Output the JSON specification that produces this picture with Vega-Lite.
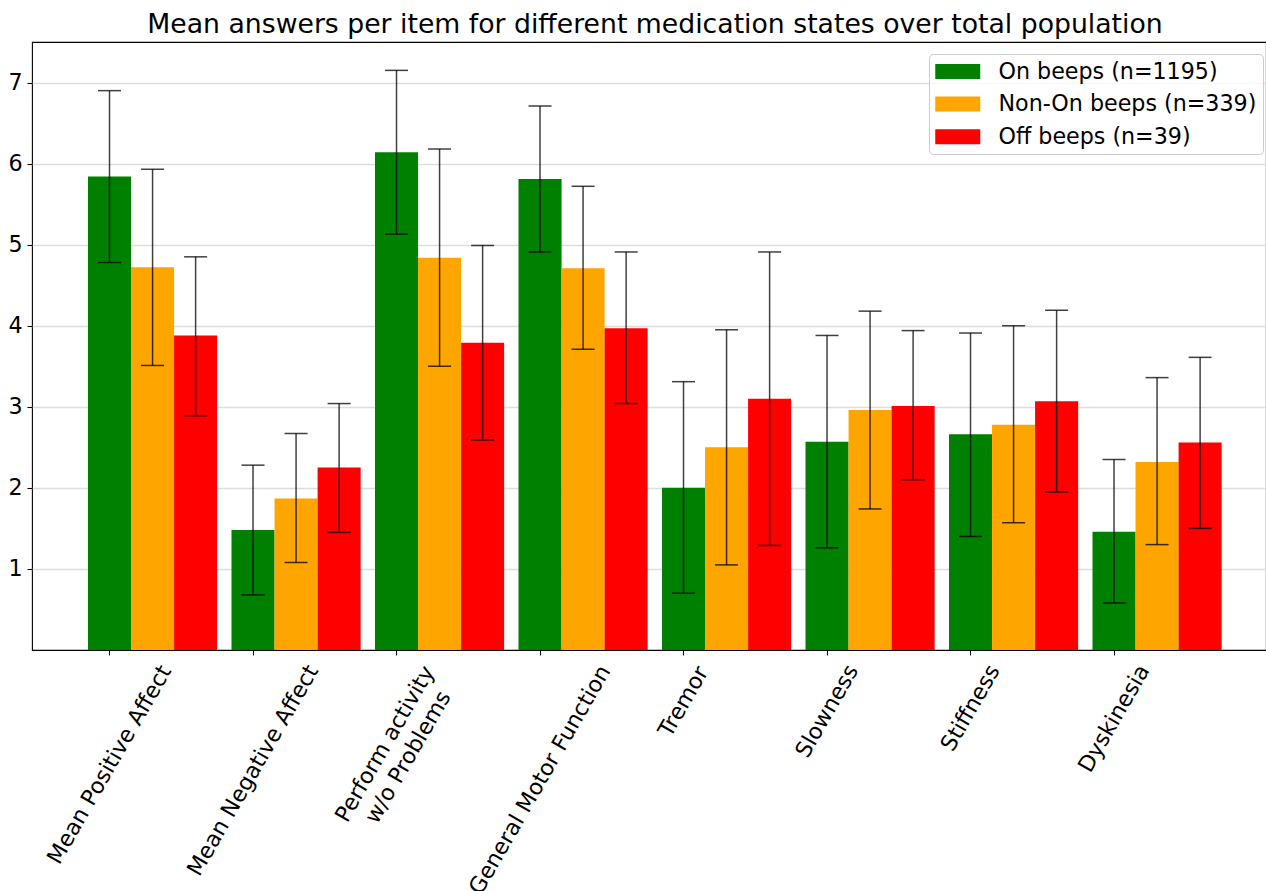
{
  "$schema": "https://vega.github.io/schema/vega-lite/v6.json",
  "autosize": {"type": "none"},
  "padding": {"left": 32, "top": 42, "right": 0, "bottom": 241},
  "width": 1234,
  "height": 608,
  "background": "white",
  "title": {
    "text": "Mean answers per item for different medication states over total population",
    "font": "DejaVu Sans",
    "fontSize": 26.7,
    "fontWeight": "normal",
    "color": "black",
    "anchor": "middle",
    "frame": "group",
    "baseline": "top",
    "offset": 3,
    "dx": 6
  },
  "config": {
    "view": {"stroke": "black", "strokeWidth": 1.1},
    "font": "DejaVu Sans"
  },
  "data": {
    "values": [
      {"item": "Mean Positive Affect", "state": "On beeps (n=1195)", "mean": 5.84, "lo": 4.78, "hi": 6.90},
      {"item": "Mean Positive Affect", "state": "Non-On beeps (n=339)", "mean": 4.72, "lo": 3.51, "hi": 5.93},
      {"item": "Mean Positive Affect", "state": "Off beeps (n=39)", "mean": 3.88, "lo": 2.89, "hi": 4.85},
      {"item": "Mean Negative Affect", "state": "On beeps (n=1195)", "mean": 1.48, "lo": 0.68, "hi": 2.28},
      {"item": "Mean Negative Affect", "state": "Non-On beeps (n=339)", "mean": 1.87, "lo": 1.08, "hi": 2.67},
      {"item": "Mean Negative Affect", "state": "Off beeps (n=39)", "mean": 2.25, "lo": 1.45, "hi": 3.04},
      {"item": "Perform activity\nw/o Problems", "state": "On beeps (n=1195)", "mean": 6.14, "lo": 5.13, "hi": 7.15},
      {"item": "Perform activity\nw/o Problems", "state": "Non-On beeps (n=339)", "mean": 4.84, "lo": 3.50, "hi": 6.18},
      {"item": "Perform activity\nw/o Problems", "state": "Off beeps (n=39)", "mean": 3.79, "lo": 2.59, "hi": 4.99},
      {"item": "General Motor Function", "state": "On beeps (n=1195)", "mean": 5.81, "lo": 4.91, "hi": 6.71},
      {"item": "General Motor Function", "state": "Non-On beeps (n=339)", "mean": 4.71, "lo": 3.71, "hi": 5.72},
      {"item": "General Motor Function", "state": "Off beeps (n=39)", "mean": 3.97, "lo": 3.04, "hi": 4.91},
      {"item": "Tremor", "state": "On beeps (n=1195)", "mean": 2.00, "lo": 0.70, "hi": 3.31},
      {"item": "Tremor", "state": "Non-On beeps (n=339)", "mean": 2.50, "lo": 1.05, "hi": 3.95},
      {"item": "Tremor", "state": "Off beeps (n=39)", "mean": 3.10, "lo": 1.29, "hi": 4.91},
      {"item": "Slowness", "state": "On beeps (n=1195)", "mean": 2.57, "lo": 1.26, "hi": 3.88},
      {"item": "Slowness", "state": "Non-On beeps (n=339)", "mean": 2.96, "lo": 1.74, "hi": 4.18},
      {"item": "Slowness", "state": "Off beeps (n=39)", "mean": 3.01, "lo": 2.10, "hi": 3.94},
      {"item": "Stiffness", "state": "On beeps (n=1195)", "mean": 2.66, "lo": 1.40, "hi": 3.91},
      {"item": "Stiffness", "state": "Non-On beeps (n=339)", "mean": 2.78, "lo": 1.57, "hi": 4.00},
      {"item": "Stiffness", "state": "Off beeps (n=39)", "mean": 3.07, "lo": 1.95, "hi": 4.19},
      {"item": "Dyskinesia", "state": "On beeps (n=1195)", "mean": 1.46, "lo": 0.58, "hi": 2.35},
      {"item": "Dyskinesia", "state": "Non-On beeps (n=339)", "mean": 2.32, "lo": 1.30, "hi": 3.36},
      {"item": "Dyskinesia", "state": "Off beeps (n=39)", "mean": 2.56, "lo": 1.50, "hi": 3.61}
    ]
  },
  "encoding": {
    "x": {
      "field": "item",
      "type": "nominal",
      "sort": ["Mean Positive Affect", "Mean Negative Affect", "Perform activity\nw/o Problems", "General Motor Function", "Tremor", "Slowness", "Stiffness", "Dyskinesia"],
      "scale": {"paddingInner": 0.1, "paddingOuter": 0.34965, "align": 0.558},
      "axis": {
        "title": null,
        "bandPosition": 0.1667,
        "domain": false,
        "grid": false,
        "ticks": true,
        "tickSize": 5,
        "tickColor": "black",
        "tickWidth": 1.1,
        "labelAngle": -60,
        "labelAlign": "center",
        "labelBaseline": "middle",
        "labelFont": "DejaVu Sans",
        "labelFontSize": 22.2,
        "labelColor": "black",
        "labelLimit": 1000,
        "labelOverlap": false,
        "labelLineHeight": 26.6,
        "labelExpr": "split(datum.label, '\\n')",
        "labelOffset": {
          "condition": [
            {"test": "indexof(datum.value, 'Perform') >= 0", "value": -54.5}
          ],
          "value": -43
        },
        "labelPadding": {
          "condition": [
            {"test": "datum.value === 'Mean Positive Affect'", "value": 109.2},
            {"test": "datum.value === 'Mean Negative Affect'", "value": 114.9},
            {"test": "indexof(datum.value, 'Perform') >= 0", "value": 88.5},
            {"test": "datum.value === 'General Motor Function'", "value": 124.4},
            {"test": "datum.value === 'Tremor'", "value": 46.1},
            {"test": "datum.value === 'Slowness'", "value": 55.7},
            {"test": "datum.value === 'Stiffness'", "value": 52.5},
            {"test": "datum.value === 'Dyskinesia'", "value": 63.1}
          ],
          "value": 5
        }
      }
    },
    "xOffset": {
      "field": "state",
      "type": "nominal",
      "sort": ["On beeps (n=1195)", "Non-On beeps (n=339)", "Off beeps (n=39)"],
      "scale": {"paddingInner": 0, "paddingOuter": 0}
    }
  },
  "layer": [
    {
      "mark": {"type": "bar"},
      "encoding": {
        "y": {
          "field": "mean",
          "type": "quantitative",
          "scale": {"domain": [0, 7.5], "nice": false, "zero": true},
          "axis": {
            "title": null,
            "values": [1, 2, 3, 4, 5, 6, 7],
            "format": "d",
            "grid": true,
            "gridColor": "#dddddd",
            "gridWidth": 1.4,
            "domain": false,
            "tickSize": 5,
            "tickColor": "black",
            "tickWidth": 1.1,
            "labelPadding": 5,
            "labelFont": "DejaVu Sans",
            "labelFontSize": 22.2,
            "labelColor": "black"
          }
        },
        "color": {
          "field": "state",
          "type": "nominal",
          "scale": {
            "domain": ["On beeps (n=1195)", "Non-On beeps (n=339)", "Off beeps (n=39)"],
            "range": ["#008000", "#ffa500", "#ff0000"]
          },
          "legend": {
            "orient": "none",
            "legendX": 897,
            "legendY": 12,
            "title": null,
            "symbolType": "M-1,-0.667H3V0.667H-1Z",
            "symbolSize": 506,
            "symbolStrokeWidth": 0,
            "symbolOpacity": 1,
            "labelFont": "DejaVu Sans",
            "labelFontSize": 22.2,
            "labelColor": "black",
            "labelOffset": 40.5,
            "labelLimit": 500,
            "padding": 6,
            "rowPadding": 9.6,
            "fillColor": "rgba(255,255,255,0.8)",
            "strokeColor": "#cccccc",
            "cornerRadius": 4
          }
        }
      }
    },
    {
      "mark": {"type": "rule", "color": "black", "opacity": 0.75, "strokeWidth": 1.5},
      "encoding": {
        "y": {"field": "lo", "type": "quantitative"},
        "y2": {"field": "hi"}
      }
    },
    {
      "mark": {"type": "tick", "color": "black", "opacity": 0.75, "size": 23, "thickness": 1.5},
      "encoding": {
        "y": {"field": "lo", "type": "quantitative"}
      }
    },
    {
      "mark": {"type": "tick", "color": "black", "opacity": 0.75, "size": 23, "thickness": 1.5},
      "encoding": {
        "y": {"field": "hi", "type": "quantitative"}
      }
    }
  ]
}
